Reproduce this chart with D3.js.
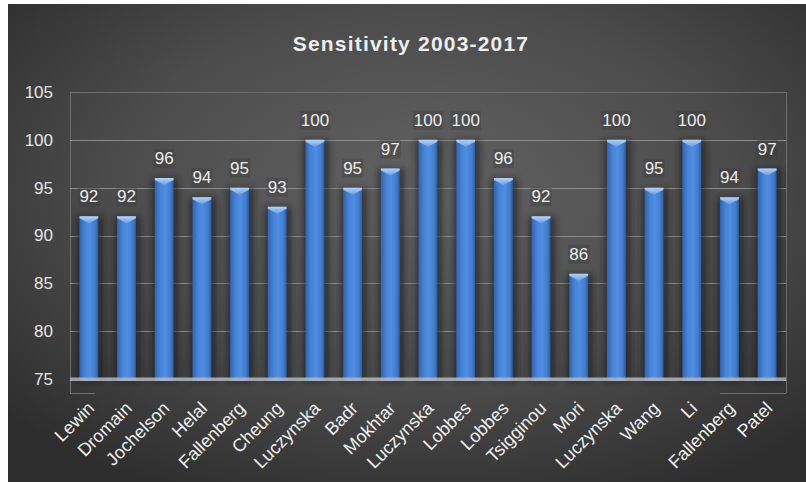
<!DOCTYPE html>
<html>
<head>
<meta charset="utf-8">
<script src="https://cdn.jsdelivr.net/npm/d3@7"></script>
<style>
  html, body { margin: 0; padding: 0; background: #ffffff; }
  svg { display: block; }
  text { font-family: "Liberation Sans", Arial, Helvetica, sans-serif; }
</style>
</head>
<body>
<svg id="chart" width="806" height="482"></svg>
<script>
// Study authors (x categories) and reported sensitivity (%)
const authors = ["Lewin", "Dromain", "Jochelson", "Helal", "Fallenberg", "Cheung",
  "Luczynska", "Badr", "Mokhtar", "Luczynska", "Lobbes", "Lobbes", "Tsigginou",
  "Mori", "Luczynska", "Wang", "Li", "Fallenberg", "Patel"];
const sensitivity = [92, 92, 96, 94, 95, 93, 100, 95, 97, 100, 100, 96, 92, 86, 100, 95, 100, 94, 97];
const yTicks = [75, 80, 85, 90, 95, 100, 105];
const chartTitle = "Sensitivity 2003-2017";

const W = 806, H = 482;
const plot = { left: 70, right: 786, top: 92, floor: 379, bottom: 393 };

const svg = d3.select("#chart");
const defs = svg.append("defs");

// Panel background: soft radial light in the middle, darker towards the edges
const bg = defs.append("radialGradient").attr("id", "bgGrad")
  .attr("cx", "52%").attr("cy", "40%").attr("r", "70%");
bg.append("stop").attr("offset", "0%").attr("stop-color", "#636363");
bg.append("stop").attr("offset", "55%").attr("stop-color", "#4c4c4c");
bg.append("stop").attr("offset", "100%").attr("stop-color", "#2d2d2d");

// Cylindrical shading across each bar
const barGrad = defs.append("linearGradient").attr("id", "barGrad")
  .attr("x1", "0%").attr("x2", "100%").attr("y1", "0%").attr("y2", "0%");
[["0%", "#3064b0"], ["30%", "#4784d8"], ["55%", "#508ee2"], ["85%", "#417acb"], ["100%", "#2c5aa2"]]
  .forEach(([o, c]) => barGrad.append("stop").attr("offset", o).attr("stop-color", c));

// Lighter bevel on the bar tops
const capGrad = defs.append("linearGradient").attr("id", "capGrad")
  .attr("x1", "0%").attr("x2", "0%").attr("y1", "0%").attr("y2", "100%");
capGrad.append("stop").attr("offset", "0%").attr("stop-color", "#b6d2f4");
capGrad.append("stop").attr("offset", "100%").attr("stop-color", "#6a9ee4");

const blur = defs.append("filter").attr("id", "shadow")
  .attr("x", "-60%").attr("y", "-10%").attr("width", "220%").attr("height", "130%");
blur.append("feGaussianBlur").attr("stdDeviation", 3);

svg.append("rect").attr("x", 8).attr("y", 4).attr("width", W - 8).attr("height", H - 4)
  .attr("fill", "url(#bgGrad)");

// Scales
const x = d3.scaleBand().domain(d3.range(authors.length))
  .range([plot.left, plot.right]).paddingInner(0.5).paddingOuter(0.25);
const y = d3.scaleLinear().domain([75, 105]).range([plot.floor, plot.top]);

// Title
svg.append("text").attr("x", 411).attr("y", 51).attr("text-anchor", "middle")
  .attr("font-size", 21).attr("font-weight", "bold").attr("letter-spacing", 1.2)
  .attr("fill", "#eeeeee").text(chartTitle);

// Plot-area frame (back wall edges)
const frame = svg.append("g").attr("stroke", "#6e6e6e").attr("stroke-width", 1).attr("fill", "none");
frame.append("line").attr("x1", plot.left + 0.5).attr("x2", plot.left + 0.5).attr("y1", plot.top).attr("y2", plot.bottom);
frame.append("line").attr("x1", plot.right + 0.5).attr("x2", plot.right + 0.5).attr("y1", plot.top).attr("y2", plot.bottom);
frame.append("line").attr("x1", plot.left).attr("x2", plot.left + 25).attr("y1", plot.bottom + 0.5).attr("y2", plot.bottom + 0.5);
frame.append("line").attr("x1", plot.right - 66).attr("x2", plot.right).attr("y1", plot.bottom + 0.5).attr("y2", plot.bottom + 0.5);

// Horizontal gridlines
svg.append("g").selectAll("line").data(yTicks.filter(t => t > 75)).join("line")
  .attr("x1", plot.left).attr("x2", plot.right)
  .attr("y1", d => Math.round(y(d)) + 0.5).attr("y2", d => Math.round(y(d)) + 0.5)
  .attr("stroke", d => d === 105 ? "#6e6e6e" : "#8c8c8c").attr("stroke-width", 1);

// Y axis tick labels
const yAxis = d3.axisLeft(y).tickValues(yTicks).tickSize(0).tickPadding(0);
const gy = svg.append("g").attr("transform", `translate(53,0)`).call(yAxis);
gy.select(".domain").remove();
gy.selectAll("text").attr("font-size", 17).attr("fill", "#e6e6e6")
  .attr("font-family", "'Liberation Sans', Arial, sans-serif");

// Bars
const bw = x.bandwidth();
const bars = svg.append("g");
bars.selectAll("rect.shadow").data(sensitivity).join("rect").attr("class", "shadow")
  .attr("x", (d, i) => x(i) - 3).attr("y", d => y(d))
  .attr("width", bw + 8).attr("height", d => y(75) - y(d) + 2)
  .attr("fill", "#151515").attr("opacity", 0.55).attr("filter", "url(#shadow)");
bars.selectAll("rect.bar").data(sensitivity).join("rect").attr("class", "bar")
  .attr("x", (d, i) => x(i)).attr("y", d => y(d))
  .attr("width", bw).attr("height", d => y(75) - y(d) + 2)
  .attr("fill", "url(#barGrad)");
bars.selectAll("path.cap").data(sensitivity).join("path").attr("class", "cap")
  .attr("d", (d, i) => {
    const x0 = x(i), x1 = x(i) + bw, cx = x(i) + bw / 2, t = y(d);
    return `M${x0},${t}L${x1},${t}L${x1},${t + 2}L${cx},${t + 7}L${x0},${t + 2}Z`;
  })
  .attr("fill", "url(#capGrad)");

// Floor line at the baseline
svg.append("rect").attr("x", plot.left).attr("y", y(75) - 1.5).attr("width", plot.right - plot.left)
  .attr("height", 3.5).attr("fill", "#b4b6be").attr("opacity", 0.85);

// Value labels
const labels = svg.append("g");
labels.selectAll("rect").data(sensitivity).join("rect")
  .attr("x", (d, i) => x(i) + bw / 2 - (String(d).length * 9.5) / 2 - 1)
  .attr("y", d => y(d) - 29).attr("width", d => String(d).length * 9.5 + 2).attr("height", 19)
  .attr("fill", "#3a3a3a").attr("opacity", 0.35);
labels.selectAll("text").data(sensitivity).join("text")
  .attr("x", (d, i) => x(i) + bw / 2).attr("y", d => y(d) - 14)
  .attr("text-anchor", "middle").attr("font-size", 17).attr("fill", "#ececec")
  .text(d => d);

// X axis category labels, rotated
const xAxis = d3.axisBottom(x).tickSize(0).tickPadding(0).tickFormat(i => authors[i]);
const gx = svg.append("g").attr("transform", `translate(0,${plot.bottom})`).call(xAxis);
gx.select(".domain").remove();
gx.selectAll("text")
  .attr("font-size", 18).attr("fill", "#f0f0f0")
  .attr("font-family", "'Liberation Sans', Arial, sans-serif")
  .attr("text-anchor", "end").attr("dy", "0.35em")
  .attr("transform", "translate(2,12) rotate(-45)");
</script>
</body>
</html>
